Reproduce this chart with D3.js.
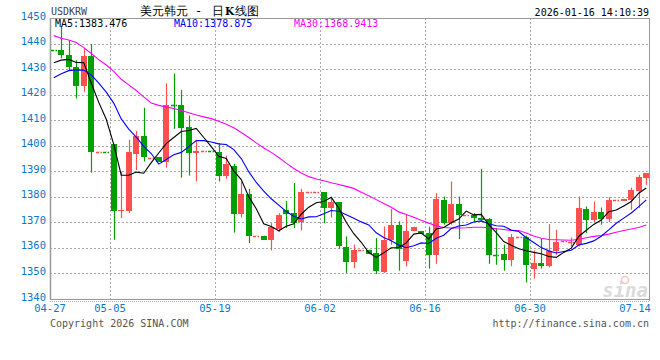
<!DOCTYPE html>
<html><head><meta charset="utf-8">
<script src="https://cdn.jsdelivr.net/npm/d3@7"></script>
<style>body{margin:0;background:#fff}svg text{font-family:"DejaVu Sans Mono",monospace}</style>
</head><body><svg id="c" width="660" height="360"></svg>
<script>
const dates=["04-27","04-28","04-29","04-30",
"05-01","05-02","05-03","05-04","05-05","05-06","05-07","05-08","05-09","05-10","05-11","05-12","05-13","05-14","05-15","05-16","05-17","05-18","05-19","05-20","05-21","05-22","05-23","05-24","05-25","05-26","05-27","05-28","05-29","05-30","05-31",
"06-01","06-02","06-03","06-04","06-05","06-06","06-07","06-08","06-09","06-10","06-11","06-12","06-13","06-14","06-15","06-16","06-17","06-18","06-19","06-20","06-21","06-22","06-23","06-24","06-25","06-26","06-27","06-28","06-29","06-30",
"07-01","07-02","07-03","07-04","07-05","07-06","07-07","07-08","07-09","07-10","07-11","07-12","07-13","07-14","07-15"];
const open=[1437.5,1437.4,1435.7,1430.9,1423.5,1435.1,1397.6,1397.8,1400.7,1374.3,
1374.6,1396.8,1403.8,1395.0,1395.4,1393.8,1416.0,1415.9,1407.2,1397.1,
1397.9,1398.1,1397.5,1388.3,1392.1,1373.4,1381.2,1364.7,1364.8,1363.2,
1367.5,1374.9,1373.6,1370.0,1381.7,1381.7,1381.8,1375.8,1377.8,1360.2,
1354.3,1358.9,1359.3,1358.0,1350.4,1363.2,1369.1,1354.7,1366.5,1366.7,
1365.9,1357.3,1378.8,1369.9,1377.3,1372.9,1373.0,1371.9,1371.4,1357.4,
1357.7,1355.4,1364.2,1364.3,1351.9,1354.1,1352.8,1358.6,1362.8,1362.4,
1361.2,1375.3,1371.0,1374.0,1371.4,1378.7,1378.4,1378.8,1382.1,1387.5];
const high=[1437.5,1446.8,1441.3,1433.5,1438.3,1439.8,1397.7,1397.8,1400.7,1389.9,
1402.3,1405.8,1414.9,1395.1,1395.4,1424.4,1428.3,1421.8,1411.8,1401.9,
1398.0,1398.1,1401.1,1396.1,1392.9,1386.0,1383.1,1364.8,1364.8,1369.7,
1373.6,1378.4,1385.4,1383.1,1381.8,1381.8,1381.8,1379.5,1377.8,1364.5,
1361.3,1359.0,1359.3,1363.9,1368.4,1375.3,1370.4,1373.0,1368.3,1366.7,
1368.3,1381.4,1380.1,1386.0,1380.1,1373.0,1373.6,1390.9,1371.7,1367.8,
1361.3,1365.4,1364.3,1364.9,1359.0,1363.5,1369.3,1367.1,1362.9,1364.1,
1380.1,1376.2,1378.2,1375.8,1379.9,1378.8,1379.2,1383.6,1388.6,1389.2];
const low=[1437.4,1434.2,1429.6,1418.5,1421.1,1389.5,1397.6,1397.7,1363.2,1371.7,
1373.7,1390.5,1393.8,1395.0,1393.8,1391.4,1406.6,1387.5,1388.3,1386.0,
1397.9,1398.0,1386.0,1387.0,1366.0,1371.9,1361.9,1364.7,1363.2,1359.0,
1366.2,1367.8,1367.8,1366.8,1381.7,1381.7,1369.7,1371.9,1359.7,1350.2,
1352.1,1358.9,1357.7,1349.8,1350.2,1361.2,1351.1,1352.8,1366.5,1365.4,
1351.9,1353.8,1369.1,1369.1,1363.5,1372.9,1370.1,1370.3,1353.8,1353.4,
1351.1,1352.8,1364.2,1346.5,1348.0,1351.9,1352.4,1357.3,1362.8,1360.6,
1360.6,1365.8,1370.1,1369.1,1370.1,1378.7,1378.4,1374.9,1375.6,1384.7];
const close=[1437.4,1435.7,1430.9,1423.5,1435.1,1397.7,1397.7,1397.7,1374.3,1374.9,
1397.7,1403.8,1395.4,1395.1,1393.8,1415.9,1415.9,1407.1,1397.1,1398.0,
1398.0,1398.0,1388.3,1392.9,1373.4,1381.2,1364.5,1364.8,1363.2,1368.0,
1373.0,1373.4,1369.7,1381.8,1381.8,1381.8,1375.8,1377.8,1360.6,1354.3,
1359.3,1359.0,1357.7,1351.1,1363.2,1369.1,1359.7,1366.7,1368.3,1365.4,
1357.3,1379.2,1369.9,1377.3,1372.7,1373.0,1371.7,1371.0,1357.1,1357.3,
1355.4,1364.3,1364.3,1353.2,1354.1,1352.8,1358.9,1362.5,1362.9,1362.5,
1375.6,1371.0,1374.0,1371.4,1378.8,1378.8,1379.2,1382.5,1387.7,1389.2];
const ma5Lead=[1432.5,1433.5,1433.8,1432.6];
const ma10Lead=[1426.6,1428.2,1429.4,1429.7,1429.6,1427.7,1424.5,1421.0,1416.7];
const ma30=[1443.1,1442.1,1441.4,1440.4,1438.4,1436.1,1433.7,1431.6,1429.1,1426.0,
1423.8,1421.6,1419.1,1416.7,1415.8,1415.2,1414.6,1413.8,1412.9,1412.0,
1411.3,1410.6,1409.6,1408.4,1407.0,1405.2,1403.2,1401.1,1399.1,1397.4,
1395.4,1393.2,1391.1,1389.3,1387.9,1387.0,1386.3,1385.5,1384.8,1384.1,
1383.3,1381.8,1380.4,1378.9,1377.4,1375.9,1374.1,1373.1,1372.0,1370.8,
1369.7,1368.7,1368.0,1367.8,1367.8,1367.9,1368.1,1368.1,1367.9,1367.5,
1367.2,1366.8,1366.8,1365.8,1364.7,1363.8,1363.3,1363.2,1363.1,1363.0,
1363.4,1364.0,1364.5,1364.8,1365.4,1366.1,1366.8,1367.4,1368.0,1368.94];
const yTicks=[1340,1350,1360,1370,1380,1390,1400,1410,1420,1430,1440,1450];
const xTickLabels=["04-27","05-05","05-19","06-02","06-16","06-30","07-14"];
const legendNames=["MA5","MA10","MA30"];
const legendValues=["1383.476","1378.875","1368.9413"];

const svg=d3.select("#c");
const L=50,R=650,T=18,B=299;
const x=d3.scaleBand().domain(dates).range([L,R]);
const y=d3.scaleLinear().domain([1340,1450]).range([B,T]);
const cx=i=>x(dates[i])+x.bandwidth()/2;
const red="#ff5050",green="#00a000",gridC="#aaaaaa",blueT="#0a78c8";

// grid
const g=svg.append("g");
g.selectAll("line.h").data(yTicks.filter(v=>v>1340&&v<1450)).join("line")
 .attr("x1",L).attr("x2",R).attr("y1",d=>Math.round(y(d))+0.5).attr("y2",d=>Math.round(y(d))+0.5)
 .attr("stroke",gridC).attr("stroke-dasharray","2,2");
g.selectAll("line.v").data(xTickLabels.slice(1,-1)).join("line")
 .attr("x1",d=>Math.round(x(d))+0.5).attr("x2",d=>Math.round(x(d))+0.5).attr("y1",T).attr("y2",B)
 .attr("stroke",gridC).attr("stroke-dasharray","2,2");

// frame
svg.append("line").attr("x1",L).attr("x2",R).attr("y1",T+0.5).attr("y2",T+0.5).attr("stroke","#999");
svg.append("line").attr("x1",R-0.5).attr("x2",R-0.5).attr("y1",T).attr("y2",B+2).attr("stroke","#999");
svg.append("line").attr("x1",L).attr("x2",R).attr("y1",B+0.5).attr("y2",B+0.5).attr("stroke","#999");
svg.append("line").attr("x1",L).attr("x2",R).attr("y1",B+2.5).attr("y2",B+2.5).attr("stroke","#aaa").attr("stroke-dasharray","1,1");

// y axis
const ya=svg.append("g").attr("transform",`translate(${L},0)`)
 .call(d3.axisLeft(y).tickValues(yTicks).tickSize(0).tickPadding(4).tickFormat(d3.format("d")));
ya.select(".domain").attr("stroke","#999").attr("stroke-width",1.5);
ya.selectAll("text").attr("fill",blueT).attr("font-size",10.5).attr("font-family","DejaVu Sans Mono").attr("dy","0.1em");

// x axis labels
const xa=svg.append("g").attr("transform",`translate(0,${B})`)
 .call(d3.axisBottom(x).tickValues(xTickLabels).tickSize(0).tickPadding(6));
xa.select(".domain").remove();
xa.selectAll(".tick").attr("transform",d=>`translate(${x(d)},0)`);
xa.selectAll("text").attr("fill",blueT).attr("font-size",10.5).attr("font-family","DejaVu Sans Mono");

// candles
const idx=d3.range(dates.length);
const isUp=i=>close[i]>open[i];
const cg=svg.append("g");
cg.selectAll("line.w").data(idx).join("line")
 .attr("x1",i=>Math.round(cx(i))+0.5).attr("x2",i=>Math.round(cx(i))+0.5)
 .attr("y1",i=>y(high[i])).attr("y2",i=>y(low[i]))
 .attr("stroke",i=>isUp(i)?red:green).attr("stroke-width",1.2);
cg.selectAll("rect").data(idx.filter(i=>Math.abs(y(open[i])-y(close[i]))>=1)).join("rect")
 .attr("x",i=>Math.round(cx(i)-3)).attr("width",6)
 .attr("y",i=>Math.min(y(open[i]),y(close[i])))
 .attr("height",i=>Math.abs(y(open[i])-y(close[i])))
 .attr("fill",i=>isUp(i)?red:green).attr("shape-rendering","crispEdges");
cg.selectAll("line.f").data(idx.filter(i=>Math.abs(y(open[i])-y(close[i]))<1)).join("line")
 .attr("x1",i=>Math.round(cx(i)-3)).attr("x2",i=>Math.round(cx(i)+3))
 .attr("y1",i=>Math.round(y(close[i]))+0.5).attr("y2",i=>Math.round(y(close[i]))+0.5)
 .attr("stroke",i=>isUp(i)?red:green).attr("stroke-width",1.5).attr("stroke-dasharray","3,1.5");

// moving averages
const mean=(a,b)=>d3.mean(close.slice(a,b+1));
const ma5=idx.map(i=>i<4?ma5Lead[i]:mean(i-4,i));
const ma10=idx.map(i=>i<9?ma10Lead[i]:mean(i-9,i));
const line=d3.line().x((d,i)=>cx(i)).y(d=>y(d));
svg.append("path").attr("d",line(ma30)).attr("fill","none").attr("stroke","#ff00ff").attr("stroke-width",1.1);
svg.append("path").attr("d",line(ma10)).attr("fill","none").attr("stroke","#0000ff").attr("stroke-width",1.1);
svg.append("path").attr("d",line(ma5)).attr("fill","none").attr("stroke","#000").attr("stroke-width",1.1);

// watermark
const wm=svg.append("g").attr("opacity",0.45);
wm.append("text").attr("x",648).attr("y",297).attr("text-anchor","end").attr("font-size",19)
 .attr("font-style","italic").attr("font-weight","bold").attr("font-family","DejaVu Sans")
 .attr("fill","#b0b0b0").text("sina");
wm.append("circle").attr("cx",625).attr("cy",280).attr("r",3.5).attr("fill","none").attr("stroke","#f08080").attr("stroke-width",1.5);

// header texts
svg.append("text").attr("x",51).attr("y",15).attr("font-size",10).attr("fill","#444").text("USDKRW");
const tt=svg.append("text").attr("x",140).attr("y",15).attr("font-size",12)
 .attr("font-family","Noto Sans CJK SC").attr("fill","#000");
tt.append("tspan").text("美元韩元");
tt.append("tspan").attr("x",195).text("-");
tt.append("tspan").attr("x",212).text("日");
tt.append("tspan").attr("dx",1).attr("font-weight","bold").attr("font-size",10.5).attr("font-family","DejaVu Serif").text("K");
tt.append("tspan").attr("dx",1).text("线图");
svg.append("text").attr("x",649).attr("y",16).attr("text-anchor","end").attr("font-size",10).attr("fill","#000").text("2026-01-16 14:10:39");
const legX=[55,174,294],legC=["#000","#0000ff","#ff00ff"];
legendNames.forEach((n,k)=>{
 svg.append("text").attr("x",legX[k]).attr("y",27).attr("font-size",10).attr("fill",legC[k]).text(n+":"+legendValues[k]);
});
svg.append("text").attr("x",50).attr("y",327).attr("font-size",10).attr("fill","#555").text("Copyright 2026 SINA.COM");
svg.append("text").attr("x",649).attr("y",327).attr("text-anchor","end").attr("font-size",10).attr("fill","#555").text("http://finance.sina.com.cn");
</script></body></html>
